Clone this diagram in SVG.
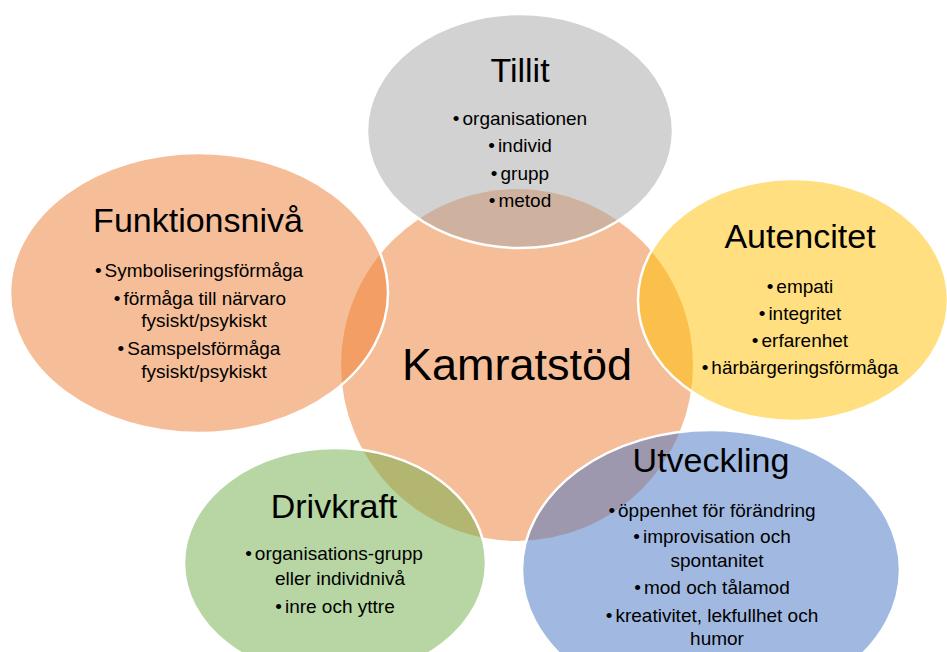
<svg xmlns="http://www.w3.org/2000/svg" width="947" height="652" viewBox="0 0 947 652">
<style>
.t{font-family:"Liberation Sans",Arial,sans-serif;fill:#000;text-anchor:middle}
.h{font-size:34px}
.b{font-size:19px}
.c{font-size:45px}
.p{stroke:#fff;stroke-width:2.5}
</style>
<rect width="947" height="652" fill="#fff"/>
<g id="connectors"></g>
<g id="center">
<circle cx="517" cy="365" r="176" fill="#ED7D31" fill-opacity="0.5"/>
</g>
<g id="tillit">
<ellipse class="p" cx="520" cy="131" rx="153" ry="117" fill="#A5A5A5" fill-opacity="0.5"/>
</g>
<g id="autencitet">
<ellipse class="p" cx="793" cy="300" rx="155" ry="121" fill="#FFC000" fill-opacity="0.5"/>
</g>
<g id="utveckling">
<ellipse class="p" cx="711" cy="570" rx="189" ry="140" fill="#4472C4" fill-opacity="0.5"/>
</g>
<g id="drivkraft">
<ellipse class="p" cx="335" cy="563" rx="151" ry="115" fill="#70AD47" fill-opacity="0.5"/>
</g>
<g id="funktionsniva">
<ellipse class="p" cx="199" cy="293" rx="189" ry="140" fill="#ED7D31" fill-opacity="0.5"/>
</g>
<g id="labels">
<text class="t c" x="517" y="380">Kamratstöd</text>

<text class="t h" x="520" y="82">Tillit</text>
<text class="t b" x="520" y="125">•<tspan dx="3">organisationen</tspan></text>
<text class="t b" x="520" y="152">•<tspan dx="3">individ</tspan></text>
<text class="t b" x="520" y="180">•<tspan dx="3">grupp</tspan></text>
<text class="t b" x="520" y="207">•<tspan dx="3">metod</tspan></text>

<text class="t h" x="800" y="248">Autencitet</text>
<text class="t b" x="800" y="293">•<tspan dx="3">empati</tspan></text>
<text class="t b" x="800" y="320">•<tspan dx="3">integritet</tspan></text>
<text class="t b" x="800" y="347">•<tspan dx="3">erfarenhet</tspan></text>
<text class="t b" x="800" y="374">•<tspan dx="3">härbärgeringsförmåga</tspan></text>

<text class="t h" x="711" y="472">Utveckling</text>
<text class="t b" x="712" y="517">•<tspan dx="3">öppenhet för förändring</tspan></text>
<text class="t b" x="712" y="543">•<tspan dx="3">improvisation och</tspan></text>
<text class="t b" x="717" y="567">spontanitet</text>
<text class="t b" x="712" y="594">•<tspan dx="3">mod och tålamod</tspan></text>
<text class="t b" x="712" y="622">•<tspan dx="3">kreativitet, lekfullhet och</tspan></text>
<text class="t b" x="717" y="645">humor</text>

<text class="t h" x="334" y="518">Drivkraft</text>
<text class="t b" x="334" y="560">•<tspan dx="3">organisations-grupp</tspan></text>
<text class="t b" x="340" y="585">eller individnivå</text>
<text class="t b" x="335" y="613">•<tspan dx="3">inre och yttre</tspan></text>

<text class="t h" x="198" y="232">Funktionsnivå</text>
<text class="t b" x="199" y="277">•<tspan dx="3">Symboliseringsförmåga</tspan></text>
<text class="t b" x="200" y="305">•<tspan dx="3">förmåga till närvaro</tspan></text>
<text class="t b" x="204" y="327">fysiskt/psykiskt</text>
<text class="t b" x="199" y="355">•<tspan dx="3">Samspelsförmåga</tspan></text>
<text class="t b" x="204" y="378">fysiskt/psykiskt</text>
</g>
</svg>
